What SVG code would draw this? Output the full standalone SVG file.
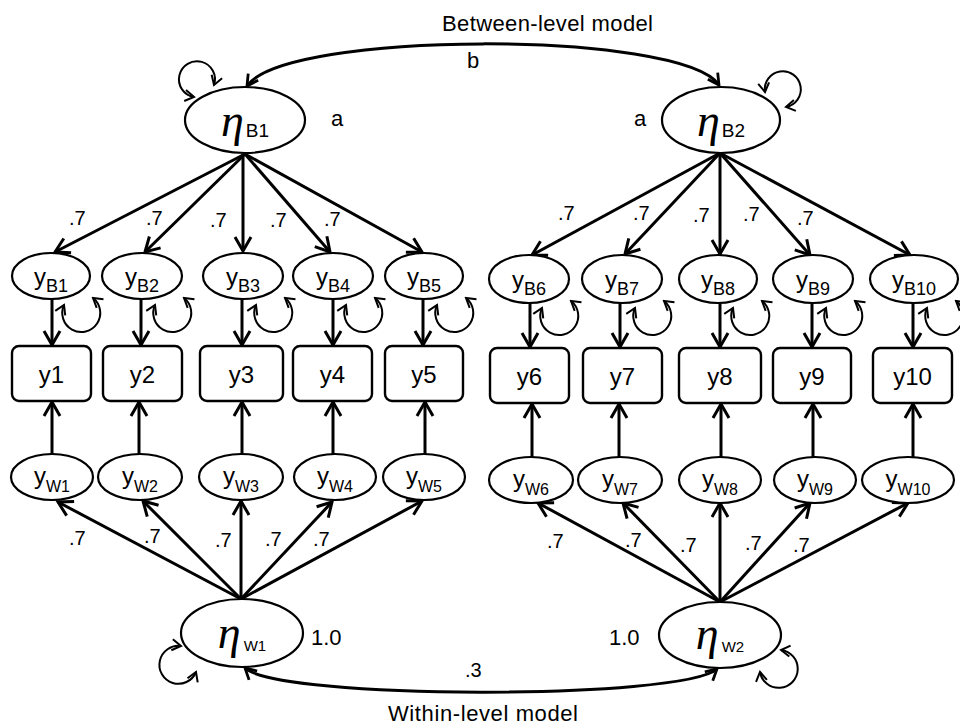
<svg xmlns="http://www.w3.org/2000/svg" width="960" height="728" viewBox="0 0 960 728">
  <style>
    .lat { fill: #fff; stroke: #000; stroke-width: 2.2; }
    .obs { fill: #fff; stroke: #000; stroke-width: 2.4; }
    .path { fill: none; stroke: #000; stroke-width: 3; }
    .cov { fill: none; stroke: #000; stroke-width: 3; }
    .var { fill: none; stroke: #000; stroke-width: 2; }
    .t { font-family: "Liberation Sans", Arial, sans-serif; fill: #000; }
    .eta { font-family: "Liberation Serif", "Times New Roman", serif; font-style: italic; font-size: 46px; }
    .ylab { font-size: 24px; }
    .subB { font-size: 18px; }
    .subW { font-size: 16px; }
    .num { font-size: 20px; }
    .title { font-size: 22px; }
  </style>
  <defs>
    <marker id="head" viewBox="-16 -10 20 20" refX="0" refY="0" markerWidth="20" markerHeight="20" markerUnits="userSpaceOnUse" orient="auto-start-reverse">
      <path d="M-14,-8 L0,0 L-14,8" fill="none" stroke="#000" stroke-width="3"/>
    </marker>
    <marker id="headM" viewBox="-14 -8 16 16" refX="0" refY="0" markerWidth="16" markerHeight="16" markerUnits="userSpaceOnUse" orient="auto-start-reverse">
      <path d="M-11,-6 L0,0 L-11,6" fill="none" stroke="#000" stroke-width="2.8"/>
    </marker>
    <marker id="headS" viewBox="-11 -7 13 14" refX="0" refY="0" markerWidth="13" markerHeight="14" markerUnits="userSpaceOnUse" orient="auto-start-reverse">
      <path d="M-9,-5.5 L0,0 L-9,5.5" fill="none" stroke="#000" stroke-width="2"/>
    </marker>
  </defs>

  <rect width="960" height="728" fill="#fff"/>

  <!-- connectors -->
  <g id="connectors">
    <!-- between-level loadings -->
    <g marker-end="url(#head)">
      <line class="path" x1="245" y1="154" x2="55" y2="252"/>
      <line class="path" x1="245" y1="154" x2="145" y2="252"/>
      <line class="path" x1="243" y1="154" x2="243" y2="251"/>
      <line class="path" x1="245" y1="154" x2="330" y2="252"/>
      <line class="path" x1="245" y1="154" x2="422" y2="252"/>
      <line class="path" x1="720" y1="153" x2="532" y2="255"/>
      <line class="path" x1="720" y1="153" x2="625" y2="254"/>
      <line class="path" x1="720" y1="153" x2="720" y2="254"/>
      <line class="path" x1="720" y1="153" x2="810" y2="255"/>
      <line class="path" x1="720" y1="153" x2="910" y2="255"/>
      <!-- between components to indicators -->
      <line class="path" x1="52" y1="299" x2="52" y2="345"/>
      <line class="path" x1="141" y1="299" x2="141" y2="345"/>
      <line class="path" x1="242" y1="299" x2="242" y2="345"/>
      <line class="path" x1="333" y1="299" x2="333" y2="345"/>
      <line class="path" x1="423" y1="299" x2="423" y2="345"/>
      <line class="path" x1="530" y1="302" x2="530" y2="347"/>
      <line class="path" x1="620" y1="302" x2="620" y2="347"/>
      <line class="path" x1="720" y1="302" x2="720" y2="347"/>
      <line class="path" x1="812" y1="302" x2="812" y2="347"/>
      <line class="path" x1="913" y1="302" x2="913" y2="347"/>
      <!-- within components to indicators -->
      <line class="path" x1="52" y1="454" x2="52" y2="402"/>
      <line class="path" x1="139" y1="454" x2="139" y2="402"/>
      <line class="path" x1="242" y1="454" x2="242" y2="402"/>
      <line class="path" x1="333" y1="454" x2="333" y2="402"/>
      <line class="path" x1="425" y1="454" x2="425" y2="402"/>
      <line class="path" x1="532" y1="457" x2="532" y2="404"/>
      <line class="path" x1="619" y1="457" x2="619" y2="404"/>
      <line class="path" x1="721" y1="457" x2="721" y2="404"/>
      <line class="path" x1="813" y1="457" x2="813" y2="404"/>
      <line class="path" x1="913" y1="457" x2="913" y2="404"/>
      <!-- within-level loadings -->
      <line class="path" x1="241" y1="599" x2="58" y2="502"/>
      <line class="path" x1="241" y1="599" x2="143" y2="501"/>
      <line class="path" x1="241" y1="599" x2="241" y2="501"/>
      <line class="path" x1="241" y1="599" x2="332" y2="502"/>
      <line class="path" x1="241" y1="599" x2="422" y2="501"/>
      <line class="path" x1="720" y1="602" x2="538" y2="503"/>
      <line class="path" x1="720" y1="602" x2="623" y2="503"/>
      <line class="path" x1="720" y1="602" x2="720" y2="503"/>
      <line class="path" x1="720" y1="602" x2="810" y2="503"/>
      <line class="path" x1="720" y1="602" x2="908" y2="503"/>
    </g>

    <!-- factor covariances -->
    <path class="cov" d="M247,86 C285,30 681,30 719,85" marker-start="url(#headM)" marker-end="url(#headM)"/>
    <path class="cov" d="M245,668 C280,700 682,700 717,669" marker-start="url(#headM)" marker-end="url(#headM)"/>

    <!-- factor variances -->
    <g marker-start="url(#headS)" marker-end="url(#headS)">
      <path class="var" d="M194,97 A18,18 0 1 1 214,85"/>
      <path class="var" d="M765,92 A18,18 0 1 1 786,107"/>
      <path class="var" d="M181,646 A19,19 0 1 0 196,672"/>
      <path class="var" d="M781,650 A19,19 0 1 1 760,672"/>
      <!-- between component variances -->
      <path class="var" d="M64,305 A19,19 0 1 0 93,298"/>
      <path class="var" d="M155,305 A19,19 0 1 0 184,298"/>
      <path class="var" d="M256,305 A19,19 0 1 0 285,298"/>
      <path class="var" d="M346,305 A19,19 0 1 0 375,298"/>
      <path class="var" d="M437,305 A19,19 0 1 0 466,298"/>
      <path class="var" d="M542,308 A19,19 0 1 0 571,301"/>
      <path class="var" d="M635,308 A19,19 0 1 0 664,301"/>
      <path class="var" d="M733,308 A19,19 0 1 0 762,301"/>
      <path class="var" d="M826,308 A19,19 0 1 0 855,301"/>
      <path class="var" d="M927,308 A19,19 0 1 0 956,301"/>
    </g>
  </g>

  <!-- factors -->
  <g id="etaB1">
    <ellipse class="lat" cx="245" cy="120" rx="60" ry="33"/>
    <text class="t" x="245" y="136" text-anchor="middle"><tspan class="eta">η</tspan><tspan font-size="19" dx="2" dy="1">B1</tspan></text>
  </g>
  <g id="etaB2">
    <ellipse class="lat" cx="721" cy="120" rx="59" ry="33"/>
    <text class="t" x="721" y="136" text-anchor="middle"><tspan class="eta">η</tspan><tspan font-size="19" dx="2" dy="1">B2</tspan></text>
  </g>
  <g id="etaW1">
    <ellipse class="lat" cx="242" cy="633" rx="61" ry="34"/>
    <text class="t" x="242" y="648" text-anchor="middle"><tspan class="eta">η</tspan><tspan font-size="15" dx="3" dy="3">W1</tspan></text>
  </g>
  <g id="etaW2">
    <ellipse class="lat" cx="720" cy="635" rx="61" ry="33"/>
    <text class="t" x="720" y="649" text-anchor="middle"><tspan class="eta">η</tspan><tspan font-size="15" dx="3" dy="3">W2</tspan></text>
  </g>

  <!-- between components -->
  <g id="yB1"><ellipse class="lat" cx="51" cy="276" rx="39" ry="23"/><text class="t ylab" x="51" y="285" text-anchor="middle">y<tspan class="subB" dy="7">B1</tspan></text></g>
  <g id="yB2"><ellipse class="lat" cx="142" cy="276" rx="40" ry="23"/><text class="t ylab" x="142" y="285" text-anchor="middle">y<tspan class="subB" dy="7">B2</tspan></text></g>
  <g id="yB3"><ellipse class="lat" cx="243" cy="276" rx="40" ry="23"/><text class="t ylab" x="243" y="285" text-anchor="middle">y<tspan class="subB" dy="7">B3</tspan></text></g>
  <g id="yB4"><ellipse class="lat" cx="333" cy="276" rx="40" ry="23"/><text class="t ylab" x="333" y="285" text-anchor="middle">y<tspan class="subB" dy="7">B4</tspan></text></g>
  <g id="yB5"><ellipse class="lat" cx="424" cy="276" rx="39" ry="23"/><text class="t ylab" x="424" y="285" text-anchor="middle">y<tspan class="subB" dy="7">B5</tspan></text></g>
  <g id="yB6"><ellipse class="lat" cx="529" cy="279" rx="40" ry="24"/><text class="t ylab" x="529" y="288" text-anchor="middle">y<tspan class="subB" dy="7">B6</tspan></text></g>
  <g id="yB7"><ellipse class="lat" cx="622" cy="279" rx="40" ry="24"/><text class="t ylab" x="622" y="288" text-anchor="middle">y<tspan class="subB" dy="7">B7</tspan></text></g>
  <g id="yB8"><ellipse class="lat" cx="718" cy="279" rx="39" ry="24"/><text class="t ylab" x="718" y="288" text-anchor="middle">y<tspan class="subB" dy="7">B8</tspan></text></g>
  <g id="yB9"><ellipse class="lat" cx="813" cy="279" rx="40" ry="24"/><text class="t ylab" x="813" y="288" text-anchor="middle">y<tspan class="subB" dy="7">B9</tspan></text></g>
  <g id="yB10"><ellipse class="lat" cx="914" cy="279" rx="44" ry="24"/><text class="t ylab" x="914" y="288" text-anchor="middle">y<tspan class="subB" dy="7">B10</tspan></text></g>

  <!-- observed indicators -->
  <g id="y1"><rect class="obs" x="12" y="346" width="79" height="55" rx="7"/><text class="t ylab" x="51.5" y="383" text-anchor="middle">y1</text></g>
  <g id="y2"><rect class="obs" x="103" y="346" width="79" height="55" rx="7"/><text class="t ylab" x="142.5" y="383" text-anchor="middle">y2</text></g>
  <g id="y3"><rect class="obs" x="200" y="346" width="83" height="55" rx="7"/><text class="t ylab" x="241.5" y="383" text-anchor="middle">y3</text></g>
  <g id="y4"><rect class="obs" x="293" y="346" width="79" height="55" rx="7"/><text class="t ylab" x="332.5" y="383" text-anchor="middle">y4</text></g>
  <g id="y5"><rect class="obs" x="385" y="346" width="78" height="55" rx="7"/><text class="t ylab" x="424" y="383" text-anchor="middle">y5</text></g>
  <g id="y6"><rect class="obs" x="490" y="348" width="79" height="55" rx="7"/><text class="t ylab" x="529.5" y="385" text-anchor="middle">y6</text></g>
  <g id="y7"><rect class="obs" x="583" y="348" width="79" height="55" rx="7"/><text class="t ylab" x="622.5" y="385" text-anchor="middle">y7</text></g>
  <g id="y8"><rect class="obs" x="679" y="348" width="82" height="55" rx="7"/><text class="t ylab" x="720" y="385" text-anchor="middle">y8</text></g>
  <g id="y9"><rect class="obs" x="773" y="348" width="78" height="55" rx="7"/><text class="t ylab" x="812" y="385" text-anchor="middle">y9</text></g>
  <g id="y10"><rect class="obs" x="873" y="348" width="79" height="55" rx="7"/><text class="t ylab" x="912.5" y="385" text-anchor="middle">y10</text></g>

  <!-- within components -->
  <g id="yW1"><ellipse class="lat" cx="52" cy="477" rx="41" ry="23"/><text class="t ylab" x="52" y="484" text-anchor="middle">y<tspan class="subW" dy="8">W1</tspan></text></g>
  <g id="yW2"><ellipse class="lat" cx="140" cy="477" rx="42" ry="23"/><text class="t ylab" x="140" y="484" text-anchor="middle">y<tspan class="subW" dy="8">W2</tspan></text></g>
  <g id="yW3"><ellipse class="lat" cx="241" cy="477" rx="42" ry="23"/><text class="t ylab" x="241" y="484" text-anchor="middle">y<tspan class="subW" dy="8">W3</tspan></text></g>
  <g id="yW4"><ellipse class="lat" cx="335" cy="477" rx="41" ry="23"/><text class="t ylab" x="335" y="484" text-anchor="middle">y<tspan class="subW" dy="8">W4</tspan></text></g>
  <g id="yW5"><ellipse class="lat" cx="424" cy="477" rx="41" ry="23"/><text class="t ylab" x="424" y="484" text-anchor="middle">y<tspan class="subW" dy="8">W5</tspan></text></g>
  <g id="yW6"><ellipse class="lat" cx="531" cy="480" rx="42" ry="23"/><text class="t ylab" x="531" y="487" text-anchor="middle">y<tspan class="subW" dy="8">W6</tspan></text></g>
  <g id="yW7"><ellipse class="lat" cx="620" cy="480" rx="42" ry="23"/><text class="t ylab" x="620" y="487" text-anchor="middle">y<tspan class="subW" dy="8">W7</tspan></text></g>
  <g id="yW8"><ellipse class="lat" cx="720" cy="480" rx="41" ry="23"/><text class="t ylab" x="720" y="487" text-anchor="middle">y<tspan class="subW" dy="8">W8</tspan></text></g>
  <g id="yW9"><ellipse class="lat" cx="815" cy="480" rx="41" ry="23"/><text class="t ylab" x="815" y="487" text-anchor="middle">y<tspan class="subW" dy="8">W9</tspan></text></g>
  <g id="yW10"><ellipse class="lat" cx="908" cy="480" rx="46" ry="23"/><text class="t ylab" x="908" y="487" text-anchor="middle">y<tspan class="subW" dy="8">W10</tspan></text></g>

  <!-- parameter labels -->
  <g id="labels" class="t">
    <text class="title" x="442" y="31" textLength="211">Between-level model</text>
    <text class="title" x="388" y="721" textLength="190">Within-level model</text>
    <text class="title" x="467" y="68">b</text>
    <text class="title" x="331" y="126">a</text>
    <text class="title" x="634" y="126">a</text>
    <text class="title" x="311" y="645">1.0</text>
    <text class="title" x="609" y="645">1.0</text>
    <text class="num" x="465" y="677">.3</text>

    <text class="num" x="69" y="225">.7</text>
    <text class="num" x="146" y="225">.7</text>
    <text class="num" x="210" y="227">.7</text>
    <text class="num" x="270" y="227">.7</text>
    <text class="num" x="324" y="226">.7</text>
    <text class="num" x="558" y="220">.7</text>
    <text class="num" x="633" y="220">.7</text>
    <text class="num" x="693" y="222">.7</text>
    <text class="num" x="743" y="221">.7</text>
    <text class="num" x="797" y="225">.7</text>

    <text class="num" x="69" y="545">.7</text>
    <text class="num" x="144" y="543">.7</text>
    <text class="num" x="215" y="547">.7</text>
    <text class="num" x="265" y="546">.7</text>
    <text class="num" x="313" y="546">.7</text>
    <text class="num" x="547" y="548">.7</text>
    <text class="num" x="625" y="547">.7</text>
    <text class="num" x="680" y="552">.7</text>
    <text class="num" x="745" y="550">.7</text>
    <text class="num" x="793" y="552">.7</text>
  </g>
</svg>
